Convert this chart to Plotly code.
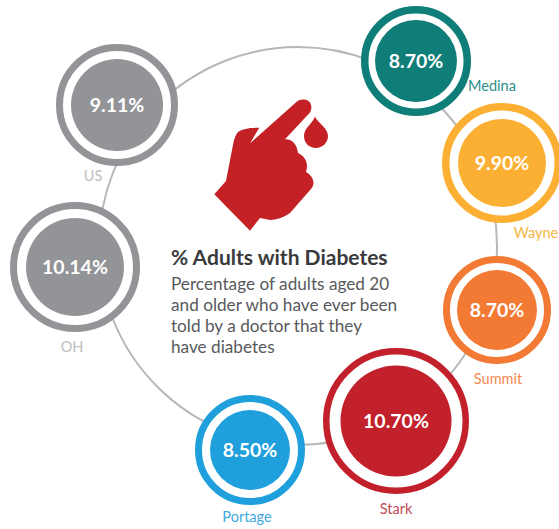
import plotly.graph_objects as go

# Data
places = ["Medina", "Wayne", "Summit", "Stark", "Portage", "OH", "US"]
rates = [8.70, 9.90, 8.70, 10.70, 8.50, 10.14, 9.11]
title = "% Adults with Diabetes"
description = [
    "Percentage of adults aged 20",
    "and older who have ever been",
    "told by a doctor that they",
    "have diabetes",
]

# Layout and style
W, H = 559, 529
centre_x = [416, 502, 497, 396, 250, 75, 117]
centre_y = [61, 163, 310, 421, 450, 267, 105]
value_y = [y + 2 for y in centre_y]
outer_r = [55, 60, 54, 73, 55, 65, 61]
inner_r = [41, 44, 40, 55.5, 40, 49, 46]
ring_w = [7.5, 7.5, 7, 6.5, 7, 7, 7]
colors = ["#0f7d78", "#fbb034", "#f37a35", "#c2202a", "#1f9fdb", "#929497", "#929497"]
label_colors = ["#2b8f8a", "#f5b63f", "#f28a52", "#c04a58", "#3fa9dd", "#bcbec0", "#bcbec0"]
label_x = [492, 536, 498, 396, 247, 72, 93]
label_y = [87, 234, 380, 510, 518, 348, 177]
RED = "#c42127"
FONT = "Lato"

hand = ("M250,143.3 L296.7,101.7 C301,98 310,99 311,105 C312,108 311,111 309.3,113.3 L285,139.3 "
        "C293,139 297,145 298,153 C305,156 309,163 306,172 C313,176 316,183 311,189 "
        "L290,213 Q280,220 270,220 L260,218 L250,230.7 L214.3,194.3 L226,181 "
        "L233.3,143.3 Q235,135 238.3,131.7 Q245,127.5 259.3,127.7 Z")
drop = ("M315,116.7 C318,123 328,128 328,136 C328,143 322,148 316,148 "
        "C309,148 304,143 304,136 C304,128 312,124 315,116.7 Z")

fig = go.Figure()

# White ring with coloured edge
fig.add_trace(go.Scatter(
    x=centre_x, y=centre_y, mode="markers", hoverinfo="skip", cliponaxis=False,
    marker=dict(size=[2 * (r - w / 2) for r, w in zip(outer_r, ring_w)],
                color="white", opacity=1,
                line=dict(color=colors, width=ring_w)),
))
# Inner disc
fig.add_trace(go.Scatter(
    x=centre_x, y=centre_y, mode="markers", cliponaxis=False,
    text=[f"{v:.2f}%" for v in rates],
    marker=dict(size=[2 * r for r in inner_r], color=colors, opacity=1, line=dict(width=0)),
    customdata=places, hovertemplate="%{customdata}: %{text}<extra></extra>",
))
# Value inside the disc
fig.add_trace(go.Scatter(
    x=centre_x, y=value_y, mode="text", hoverinfo="skip", cliponaxis=False,
    text=[f"{v:.2f}%" for v in rates], textposition="middle center",
    textfont=dict(family=FONT, size=19.5, color="white", weight="bold"),
))
# Place names
fig.add_trace(go.Scatter(
    x=label_x, y=label_y, mode="text", text=places, hoverinfo="skip", cliponaxis=False,
    textposition="middle center",
    textfont=dict(family=FONT, size=14.5, color=label_colors),
))

annotations = [dict(
    x=169, y=256, xref="x", yref="y", text=f"<b>{title}</b>", showarrow=False,
    xanchor="left", yanchor="middle",
    font=dict(family=FONT, size=21, color="#3a3a3c"),
)]
for line, y in zip(description, [283, 304, 325, 346]):
    annotations.append(dict(
        x=169, y=y, xref="x", yref="y", text=line, showarrow=False,
        xanchor="left", yanchor="middle",
        font=dict(family=FONT, size=17.2, color="#58595b"),
    ))

fig.update_layout(
    width=W, height=H, margin=dict(l=0, r=0, t=0, b=0),
    autosize=False,
    paper_bgcolor="white", plot_bgcolor="white", showlegend=False,
    xaxis=dict(range=[0, W], visible=False, fixedrange=True),
    yaxis=dict(range=[H, 0], visible=False, fixedrange=True),
    annotations=annotations,
    shapes=[
        dict(type="circle", xref="x", yref="y", x0=99, x1=497, y0=47, y1=445,
             line=dict(color="#b5b7ba", width=2), layer="below"),
        dict(type="path", path=hand, xref="x", yref="y", fillcolor=RED, line=dict(width=0), layer="below"),
        dict(type="path", path=drop, xref="x", yref="y", fillcolor=RED, line=dict(width=0), layer="below"),
    ],
)

fig.write_html("out.html", config={"displayModeBar": False},
               post_script="document.body.style.margin='0';document.documentElement.style.overflow='hidden';")
